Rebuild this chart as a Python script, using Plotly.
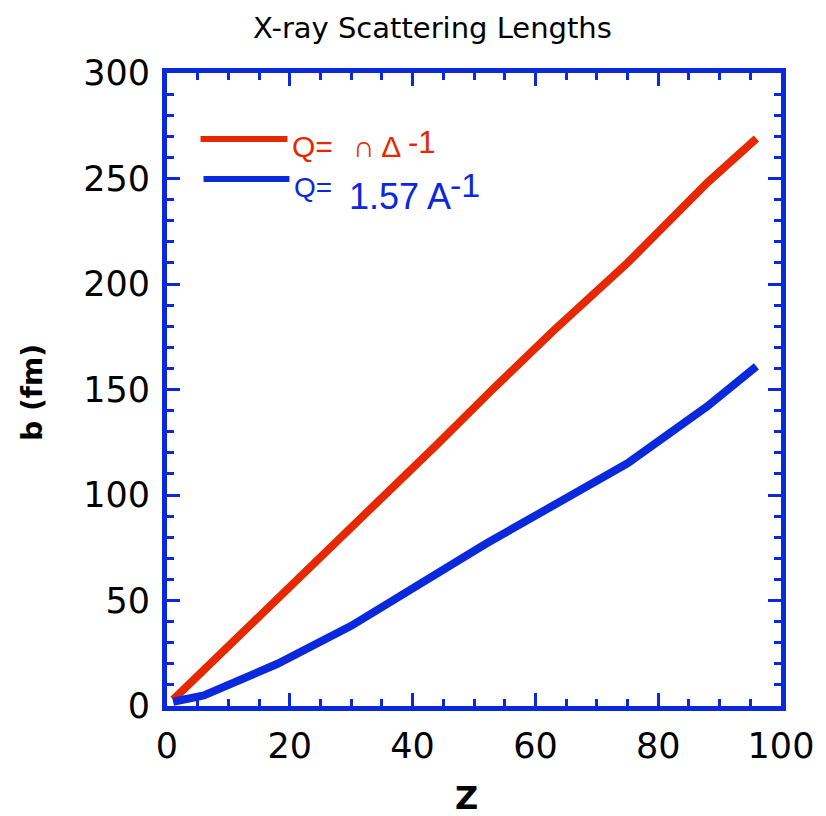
import plotly.graph_objects as go

# Data
z_red = [1, 6, 18, 30, 44, 53, 63, 75, 88, 96]
b_red = [3, 17, 51, 85, 124, 150, 178, 210, 248, 269]
z_blue = [1, 6, 18, 30, 52, 63, 75, 88, 96]
b_blue = [2, 5, 20, 38, 77, 95, 115, 142, 161]

RED = "#e62800"
BLUE = "#0a28dc"

W, H = 826, 816
L, R, T, B = 167, 37, 73, 110
pw, ph = W - L - R, H - T - B

def px(X):
    return (X - L) / pw

def py(Y):
    return (H - B - Y) / ph

fig = go.Figure()
fig.add_trace(go.Scatter(x=z_red, y=b_red, mode="lines",
                         line=dict(color=RED, width=8), showlegend=False))
fig.add_trace(go.Scatter(x=z_blue, y=b_blue, mode="lines",
                         line=dict(color=BLUE, width=8), showlegend=False))

axis_common = dict(showline=True, linecolor=BLUE, linewidth=5, mirror="allticks",
                   ticks="inside", tickcolor=BLUE, tickwidth=3, ticklen=13,
                   showgrid=False, zeroline=False, ticklabeloverflow="allow",
                   tickfont=dict(family="DejaVu Sans", size=35, color="black"))

fig.update_xaxes(range=[0, 100], dtick=20, tick0=0,
                 minor=dict(ticks="inside", dtick=5, ticklen=7, tickwidth=3, tickcolor=BLUE),
                 ticklabelstandoff=5, **axis_common)
fig.update_yaxes(range=[0, 300], dtick=50, tick0=0,
                 minor=dict(ticks="inside", dtick=10, ticklen=7, tickwidth=3, tickcolor=BLUE),
                 ticklabelstandoff=5, **axis_common)

# Legend-like samples
fig.add_shape(type="line", xref="paper", yref="paper",
              x0=px(201), x1=px(289), y0=py(139), y1=py(139),
              line=dict(color=RED, width=6))
fig.add_shape(type="line", xref="paper", yref="paper",
              x0=px(204), x1=px(291), y0=py(179), y1=py(179),
              line=dict(color=BLUE, width=6))

def ann(text, X, Y, size, color, family="Liberation Sans", anchor="left"):
    fig.add_annotation(text=text, xref="paper", yref="paper", x=px(X), y=py(Y),
                       xanchor=anchor, yanchor="middle", showarrow=False,
                       font=dict(family=family, size=size, color=color))

ann("Q=", 292, 146, 30, RED)
ann("∩ Δ", 353, 146, 30, RED)
ann("-1", 409, 142, 31, RED)
ann("Q=", 294, 187, 28, BLUE)
ann("1.57 A", 349, 196, 36, BLUE)
ann("-1", 452, 185, 34, BLUE)

# Title and axis titles
ann("X-ray Scattering Lengths", 436, 28, 29, "black", family="DejaVu Sans", anchor="center")
fig.add_annotation(text="<b>b (fm)</b>", xref="paper", yref="paper",
                   x=px(30), y=py(392), textangle=-90, showarrow=False,
                   xanchor="center", yanchor="middle",
                   font=dict(family="DejaVu Sans", size=28, color="black"))
ann("<b>Z</b>", 470, 798, 32, "black", family="DejaVu Sans", anchor="center")

fig.update_layout(width=W, height=H, margin=dict(l=L, r=R, t=T, b=B),
                  paper_bgcolor="white", plot_bgcolor="white")

fig.write_html("out.html")
